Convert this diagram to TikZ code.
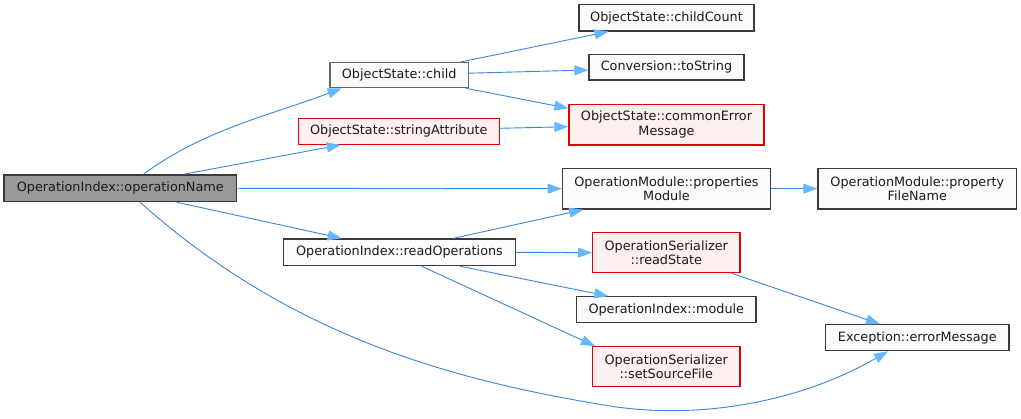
\documentclass[tikz,border=0pt]{standalone}
\usepackage{fontspec}
\setmainfont{DejaVu Sans}
\usetikzlibrary{arrows.meta,calc}
\definecolor{edgeblue}{HTML}{3A86D8}
\definecolor{tipblue}{HTML}{63B8FF}
\definecolor{plainfill}{HTML}{FBFCFA}
\definecolor{plainline}{HTML}{3A3A3A}
\definecolor{softline}{HTML}{666666}
\definecolor{mainfill}{HTML}{999999}
\definecolor{warnfill}{HTML}{FFF0F0}
\definecolor{warnline}{HTML}{DD0000}
\definecolor{labeltext}{HTML}{1A1A1A}
\begin{document}
\begin{tikzpicture}[x=1pt,y=-1pt,
  box/.style={draw=plainline, fill=plainfill, line width=1.2pt, inner sep=0pt,
    align=center, text=labeltext, font=\fontsize{12.8}{14.5}\selectfont},
  mainbox/.style={box, fill=mainfill, draw=plainline},
  softbox/.style={box, draw=softline},
  warnbox/.style={box, fill=warnfill, draw=warnline},
  call/.style={draw=edgeblue, line width=0.9pt,
    -{Triangle[length=14pt,width=10pt,fill=tipblue,color=tipblue]}}]
\fill[white] (0,0) rectangle (1021,419);
\useasboundingbox (0,0) rectangle (1021,419);

% functions
\node[mainbox, minimum width=232.7pt, minimum height=26.7pt] (op) at (120.3,188.3) {OperationIndex::operationName};
\node[softbox, minimum width=138.3pt, minimum height=25pt] (child) at (399.2,75.2) {ObjectState::child};
\node[warnbox, minimum width=201pt, minimum height=26pt] (strattr) at (398.8,131.3) {ObjectState::stringAttribute};
\node[box, minimum width=175pt, minimum height=26.3pt] (count) at (666.5,17.8) {ObjectState::childCount};
\node[box, minimum width=155pt, minimum height=25.7pt] (tostr) at (666.5,67.2) {Conversion::toString};
\node[warnbox, minimum width=195pt, minimum height=40.7pt] (cem) at (666.5,124.7) {ObjectState::commonError\\Message};
\node[box, minimum width=208.4pt, minimum height=40.7pt] (propmod) at (666.5,188.7) {OperationModule::properties\\Module};
\node[box, minimum width=198.7pt, minimum height=40.7pt] (propfile) at (917.3,188.7) {OperationModule::property\\FileName};
\node[box, minimum width=232.4pt, minimum height=26.7pt] (readops) at (399.5,252.3) {OperationIndex::readOperations};
\node[warnbox, minimum width=147.3pt, minimum height=40pt] (readstate) at (666.3,252.7) {OperationSerializer\\::readState};
\node[box, minimum width=179.3pt, minimum height=26pt] (module) at (666.3,309.7) {OperationIndex::module};
\node[warnbox, minimum width=147.3pt, minimum height=40pt] (setsrc) at (666.3,366.7) {OperationSerializer\\::setSourceFile};
\node[box, minimum width=183.3pt, minimum height=26pt] (err) at (917.3,337.7) {Exception::errorMessage};

% calls
\draw[call] ($(op.north)+(23,0)$) .. controls (203,130) and (271,115) .. ($(child.south)+(-57.5,0)$);
\draw[call] ($(op.north)+(63,0)$) -- ($(strattr.south)+(-58,0)$);
\draw[call] (op.east) -- (propmod.west);
\draw[call] ($(op.south)+(56.4,0)$) -- ($(readops.north)+(-57.8,0)$);
\draw[call] ($(op.south)+(19.7,0)$) .. controls (290,336) and (450,380) .. (610,406)
  .. controls (700,420) and (800,402) .. ($(err.south)+(-29.3,0)$);

\draw[call] ($(child.north)+(60.8,0)$) -- ($(count.south)+(-58,0)$);
\draw[call] ($(child.east)+(0,-2)$) -- ($(tostr.west)+(0,2.8)$);
\draw[call] ($(child.south east)+(-3,0)$) -- ($(cem.west)+(0,-16.4)$);
\draw[call] ($(strattr.east)+(0,-3)$) -- ($(cem.west)+(0,2)$);

\draw[call] (propmod.east) -- (propfile.west);

\draw[call] ($(readops.north)+(53.8,0)$) -- ($(propmod.south)+(-83.2,0)$);
\draw[call] (readops.east) -- (readstate.west);
\draw[call] ($(readops.south)+(60.5,0)$) -- ($(module.north)+(-58,0)$);
\draw[call] ($(readops.south)+(22.2,0)$) -- ($(setsrc.north)+(-71.3,0)$);

\draw[call] ($(readstate.south)+(65.4,0)$) -- ($(err.north)+(-37.3,0)$);
\end{tikzpicture}
\end{document}
